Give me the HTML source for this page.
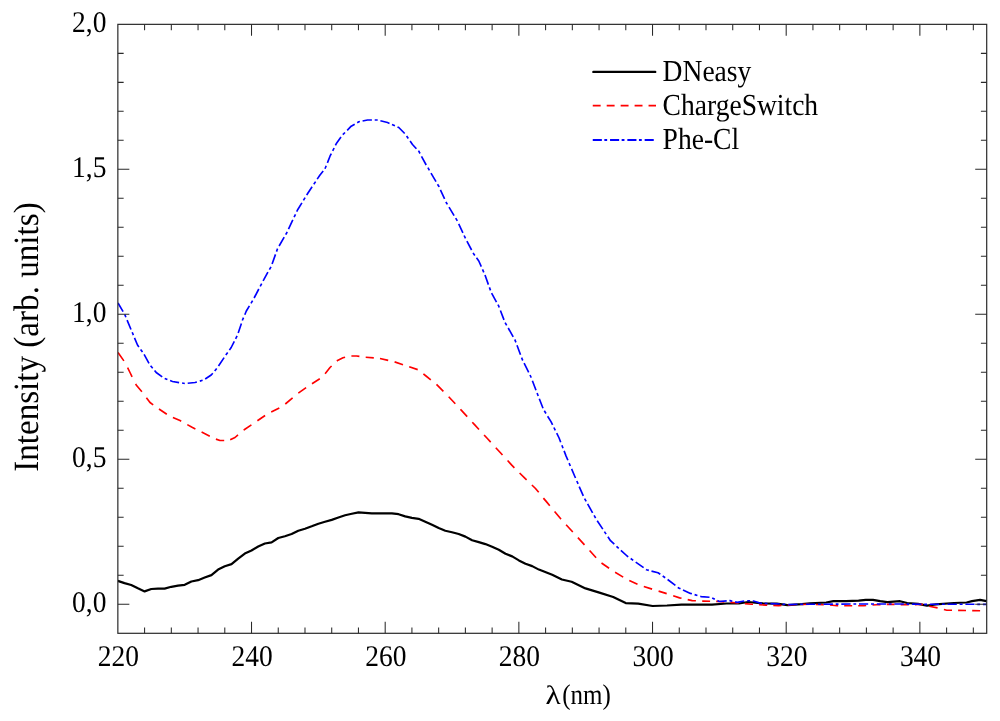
<!DOCTYPE html>
<html lang="en"><head><meta charset="utf-8"><title>Absorbance spectra</title>
<style>
html,body{margin:0;padding:0;background:#fff;}
svg{display:block;}
text{text-rendering:geometricPrecision;font-family:"Liberation Serif","DejaVu Serif",serif;fill:#000;}
.tk{stroke:#2a2a2a;stroke-width:1.05;fill:none;}
</style></head><body>
<svg width="1000" height="721" viewBox="0 0 1000 721">
<rect x="0" y="0" width="1000" height="721" fill="#fff"/>
<defs><clipPath id="c"><rect x="117.85" y="24.35" width="869.45" height="608.95"/></clipPath></defs>
<g clip-path="url(#c)" fill="none" stroke-linejoin="round">
<polyline points="117.8,580.9 124.5,583.1 131.2,585.0 137.9,588.3 144.6,591.4 151.3,589.0 158.0,588.6 164.6,588.6 171.3,586.8 178.0,585.7 184.7,584.8 191.4,581.5 198.1,580.2 204.7,577.6 211.4,575.1 218.1,569.6 224.8,566.3 231.5,564.1 238.2,558.6 244.8,553.6 251.5,550.5 258.2,546.5 264.9,543.5 271.6,542.4 278.3,538.0 284.9,536.2 291.6,534.0 298.3,530.7 305.0,528.7 311.7,526.3 318.4,523.7 325.0,521.8 331.7,519.9 338.4,517.5 345.1,515.3 351.8,513.8 358.5,512.4 365.1,512.9 371.8,513.3 378.5,513.3 385.2,513.3 391.9,513.3 398.6,514.2 405.2,516.4 411.9,517.9 418.6,518.8 425.3,521.7 432.0,524.8 438.7,528.1 445.3,530.7 452.0,532.2 458.7,534.0 465.4,536.6 472.1,540.2 478.8,542.1 485.4,544.1 492.1,546.8 498.8,549.8 505.5,553.8 512.2,556.4 518.9,560.4 525.5,563.7 532.2,566.1 538.9,569.6 552.2,574.8 561.9,579.5 571.6,581.8 585.5,588.4 599.4,592.6 613.2,597.0 625.7,603.1 638.2,603.6 652.6,606.0 667.0,605.5 681.4,604.6 712.0,604.6 726.4,603.5 739.0,603.5 748.0,602.0 762.4,603.3 776.8,603.7 787.6,605.1 802.0,604.2 810.0,603.4 826.2,602.5 833.4,601.1 846.0,601.2 858.6,600.7 865.8,599.8 873.0,599.8 880.2,601.2 887.4,602.1 900.0,601.2 907.2,603.0 918.0,603.8 927.0,605.7 936.0,604.3 954.0,603.0 966.6,602.5 972.0,601.1 980.1,599.8 986.5,601.1" stroke="#000" stroke-width="2.2"/>
<path d="M118.0 352.5L123.9 360.9M127.6 367.7L130.0 372.5L132.1 376.8M135.7 383.9L136.2 385.0L141.9 391.7M146.4 397.7L150.0 402.5L153.2 404.8M159.0 409.0L166.8 414.2M172.9 417.5L180.0 420.5L181.2 421.2M187.3 424.6L192.5 427.5L195.4 428.9M201.6 432.1L205.0 433.8L209.8 436.2M215.9 439.1L220.0 440.5L224.2 440.5M230.2 439.8L235.0 437.5L238.0 434.9M243.6 430.1L243.8 430.0L251.4 424.9M257.4 420.8L265.1 415.5M271.2 411.9L279.3 407.9M285.3 404.0L292.6 397.8M298.3 393.2L306.1 387.7M312.0 383.7L319.8 378.7M325.1 373.7L330.0 367.5L331.6 366.0M336.9 361.0L337.5 360.5L343.0 357.8L345.1 357.3M351.4 356.0L356.6 356.0L359.4 356.4M365.7 357.3L373.8 357.9M380.0 358.5L388.2 360.4M394.6 361.9L403.0 364.7M409.2 366.7L417.7 369.6M423.4 373.8L425.4 375.5L430.8 379.8M436.5 384.4L443.4 391.3M448.7 396.7L455.3 403.8M460.5 409.3L461.0 409.9L467.2 416.6M472.3 422.2L474.3 424.4L479.0 429.5M484.1 435.0L487.6 438.8L490.7 442.1M495.8 447.7L500.9 453.2L502.5 455.0M507.6 460.5L512.0 465.4L514.4 467.8M519.6 473.0L525.3 478.7L526.6 479.9M531.9 485.0L535.5 488.5L538.7 492.3M543.4 498.1L546.6 501.9L549.8 505.7M554.6 511.5L560.5 518.5L561.0 519.1M566.1 524.7L572.8 532.0M577.9 537.6L584.5 544.9M589.6 550.5L596.1 557.8M601.5 563.0L609.1 568.3M615.1 572.3L623.2 577.1M629.3 580.5L637.5 584.2M643.8 586.5L652.1 589.1M658.6 591.1L666.7 593.6M673.2 595.8L679.6 597.9L681.5 598.3M687.7 599.6L692.2 600.6L695.9 600.8M702.2 601.1L703.0 601.1L710.1 601.3M716.2 601.4L719.2 601.5L724.3 601.9M730.5 602.4L735.4 602.8L738.6 603.1M744.9 603.6L751.6 604.2L753.0 604.3M759.1 604.7L766.0 605.1L767.2 605.1M773.3 605.4L778.6 605.6L781.4 605.4M787.7 605.0L793.0 604.7L795.6 604.6M801.7 604.5L809.8 604.3M815.9 604.5L823.8 604.7M830.0 605.0L837.0 605.7L838.2 605.7M844.2 605.7L852.2 605.7M858.2 605.7L864.0 605.7L866.2 605.5M872.5 605.0L876.6 604.7L880.5 604.6M886.7 604.4L891.0 604.3L894.6 604.4M900.7 604.6L908.8 604.8M914.9 604.6L921.6 604.3L922.9 604.6M929.2 606.2L937.6 607.9M943.9 609.5L946.8 610.2L952.0 610.3M958.1 610.4L966.0 610.5M972.2 610.6L980.1 610.8M986.3 611.0L986.5 611.0" stroke="#ff0000" stroke-width="1.65"/>
<path d="M118.0 303.0L123.1 311.7M124.6 314.3L125.0 315.0L125.9 317.2M127.1 320.1L131.0 329.5M132.2 332.2L133.4 335.1M134.5 337.9L137.5 345.0L138.9 346.9M140.6 349.4L142.5 352.0M144.1 354.4L149.0 363.3M150.6 365.8L152.7 368.2M154.6 370.5L156.2 372.5L162.2 376.8M164.7 378.4L167.4 379.5M170.1 380.6L172.5 381.5L179.1 382.6M182.1 383.0L184.8 383.5M187.7 383.2L195.0 382.5L196.9 382.0M199.8 381.1L202.6 380.3M205.2 379.0L211.2 375.0L212.8 373.2M214.7 370.9L216.7 368.4M218.5 366.0L224.1 357.6M225.8 355.1L227.7 352.5M229.4 350.1L231.2 347.5L234.3 341.4M235.6 338.8L237.1 335.9M238.2 332.9L241.4 323.4M242.3 320.6L242.5 320.0L243.5 317.6M244.8 314.7L246.2 311.2L249.4 305.9M251.0 303.4L252.6 300.6M254.1 298.0L258.8 289.0M260.2 286.4L261.7 283.6M263.1 280.9L263.8 279.7L267.9 272.2M269.4 269.6L271.0 266.8M272.1 264.0L275.5 254.4M276.5 251.6L277.5 248.8L277.6 248.6M279.1 246.0L284.2 237.2M285.7 234.6L286.2 233.8L287.2 231.8M288.5 229.1L292.8 219.9M294.1 217.2L295.5 214.3M296.7 211.6L297.5 210.0L301.9 202.9M303.4 200.4L305.1 197.6M306.7 195.1L307.5 193.8L312.1 186.8M313.8 184.3L315.6 181.6M317.2 179.1L320.0 175.0L323.2 171.0M325.0 168.8L326.2 165.8M327.4 162.9L330.0 156.2L331.3 153.6M332.7 150.9L334.1 148.0M335.4 145.4L336.2 143.8L341.0 137.1M342.8 134.7L345.0 132.5M347.2 130.3L351.2 126.2L354.7 124.2M357.2 122.7L358.8 121.8L359.9 121.5M362.6 121.0L367.5 120.0L371.9 120.0M374.7 120.0L377.5 120.0L377.7 120.0M380.4 120.7L387.5 122.5L389.5 123.4M392.0 124.5L394.9 125.8M397.5 126.9L398.8 127.5L404.7 133.5M406.6 136.0L408.3 138.5M410.1 141.1L412.5 144.5L416.4 148.8M418.3 150.8L418.8 151.2L420.0 153.5M421.5 156.3L426.2 165.0M427.9 167.7L429.4 170.3M431.0 173.1L436.0 181.6M437.5 184.2L438.8 186.2L439.1 187.0M440.4 189.9L444.6 198.9M445.9 201.8L446.2 202.5L447.4 204.4M449.0 207.1L454.1 215.6M455.7 218.2L457.3 220.9M458.7 223.8L462.9 232.8M464.1 235.5L465.5 238.4M466.9 241.2L471.6 250.0M473.1 252.8L473.8 254.0L474.8 255.4M476.5 257.8L478.8 261.0L481.3 266.6M482.5 269.4L483.8 272.3M485.0 275.0L488.4 284.6M489.4 287.4L490.5 290.4M491.6 293.2L496.5 302.1M497.9 304.7L498.8 306.2L499.2 307.5M500.4 310.5L504.0 319.9M505.1 322.7L506.7 325.4M508.2 328.0L513.2 336.9M514.7 339.5L515.0 340.0L515.9 342.4M517.0 345.2L520.5 354.8M521.6 357.6L522.5 360.0L522.8 360.5M524.1 363.2L528.7 372.3M530.0 375.0L531.2 377.5L531.3 377.7M532.4 380.7L536.0 390.2M537.1 393.0L538.2 396.0M539.3 398.8L543.0 408.2M544.3 410.8L546.0 413.5M547.6 416.2L551.0 421.6L552.6 424.8M553.9 427.5L555.3 430.3M556.7 433.2L559.1 438.0L560.7 442.2M561.9 445.2L563.0 448.2M564.1 450.9L566.1 456.1L567.9 460.3M569.1 463.1L570.3 466.0M571.6 468.9L574.4 475.5L575.5 478.0M576.8 481.0L578.1 483.9M579.2 486.6L583.3 495.9M584.6 498.6L586.2 501.3M587.6 503.9L592.6 512.8M594.1 515.4L595.6 518.2M597.2 520.7L602.8 529.1M604.4 531.6L606.1 534.1M607.9 536.7L610.5 540.7L614.3 544.2M616.5 546.3L618.7 548.3M620.9 550.3L627.1 556.0L628.2 556.8M630.7 558.5L633.2 560.4M635.7 562.1L643.6 567.7M646.0 569.5L646.5 569.8L648.8 570.4M651.5 571.1L658.0 572.7L660.3 574.3M662.7 576.0L665.2 577.7M667.6 579.5L675.4 585.4M677.8 587.3L678.7 588.0L680.5 588.8M683.0 590.0L690.4 593.4L691.9 593.8M694.6 594.6L697.4 595.5M700.3 596.3L701.2 596.6L709.5 597.3M712.2 597.9L714.8 599.3M717.4 600.6L719.2 601.5L726.7 600.9M729.4 600.6L730.0 600.6L732.3 601.2M735.1 601.9L737.2 602.4L744.2 601.0M747.2 600.7L750.1 600.8M752.8 601.0L753.4 601.0L760.6 603.3L762.0 603.3M764.7 603.4L767.5 603.5M770.5 603.6L776.8 603.8L779.8 604.0M782.5 604.2L785.3 604.3M788.2 604.5L789.4 604.6L797.5 604.3M800.2 604.3L802.0 604.2L803.2 604.2M806.0 604.2L815.2 604.2M818.0 604.2L820.0 604.2L820.8 604.2M823.6 604.2L832.9 604.1M835.7 604.1L838.5 604.1M841.3 604.1L850.6 604.0M853.4 604.0L856.2 604.0M859.0 604.0L860.0 604.0L868.2 604.0M871.0 604.0L874.0 604.0M876.8 604.0L886.0 604.0M888.8 604.0L891.6 604.0M894.4 604.0L900.0 604.0L903.8 604.0M906.6 604.1L909.3 604.1M912.1 604.1L921.4 604.2M924.2 604.3L927.0 604.3M929.8 604.3L939.1 604.2M941.9 604.2L944.8 604.2M947.6 604.2L950.0 604.2L956.8 604.2M959.6 604.2L962.6 604.2M965.4 604.2L974.5 604.3M977.3 604.3L980.1 604.3M982.9 604.3L986.5 604.3" stroke="#0000ff" stroke-width="1.65"/>
</g>
<path class="tk" d="M144.58 633.30v-5.80M144.58 24.35v5.80M171.32 633.30v-5.80M171.32 24.35v5.80M198.05 633.30v-5.80M198.05 24.35v5.80M224.79 633.30v-5.80M224.79 24.35v5.80M251.52 633.30v-11.50M251.52 24.35v11.50M278.25 633.30v-5.80M278.25 24.35v5.80M304.99 633.30v-5.80M304.99 24.35v5.80M331.72 633.30v-5.80M331.72 24.35v5.80M358.45 633.30v-5.80M358.45 24.35v5.80M385.19 633.30v-11.50M385.19 24.35v11.50M411.92 633.30v-5.80M411.92 24.35v5.80M438.66 633.30v-5.80M438.66 24.35v5.80M465.39 633.30v-5.80M465.39 24.35v5.80M492.12 633.30v-5.80M492.12 24.35v5.80M518.86 633.30v-11.50M518.86 24.35v11.50M545.59 633.30v-5.80M545.59 24.35v5.80M572.33 633.30v-5.80M572.33 24.35v5.80M599.06 633.30v-5.80M599.06 24.35v5.80M625.79 633.30v-5.80M625.79 24.35v5.80M652.53 633.30v-11.50M652.53 24.35v11.50M679.26 633.30v-5.80M679.26 24.35v5.80M705.99 633.30v-5.80M705.99 24.35v5.80M732.73 633.30v-5.80M732.73 24.35v5.80M759.46 633.30v-5.80M759.46 24.35v5.80M786.20 633.30v-11.50M786.20 24.35v11.50M812.93 633.30v-5.80M812.93 24.35v5.80M839.66 633.30v-5.80M839.66 24.35v5.80M866.40 633.30v-5.80M866.40 24.35v5.80M893.13 633.30v-5.80M893.13 24.35v5.80M919.87 633.30v-11.50M919.87 24.35v11.50M946.60 633.30v-5.80M946.60 24.35v5.80M973.33 633.30v-5.80M973.33 24.35v5.80M117.85 604.30h11.50M986.70 604.30h-11.50M117.85 575.30h5.80M986.70 575.30h-5.80M117.85 546.31h5.80M986.70 546.31h-5.80M117.85 517.31h5.80M986.70 517.31h-5.80M117.85 488.31h5.80M986.70 488.31h-5.80M117.85 459.31h11.50M986.70 459.31h-11.50M117.85 430.32h5.80M986.70 430.32h-5.80M117.85 401.32h5.80M986.70 401.32h-5.80M117.85 372.32h5.80M986.70 372.32h-5.80M117.85 343.32h5.80M986.70 343.32h-5.80M117.85 314.33h11.50M986.70 314.33h-11.50M117.85 285.33h5.80M986.70 285.33h-5.80M117.85 256.33h5.80M986.70 256.33h-5.80M117.85 227.33h5.80M986.70 227.33h-5.80M117.85 198.34h5.80M986.70 198.34h-5.80M117.85 169.34h11.50M986.70 169.34h-11.50M117.85 140.34h5.80M986.70 140.34h-5.80M117.85 111.34h5.80M986.70 111.34h-5.80M117.85 82.35h5.80M986.70 82.35h-5.80M117.85 53.35h5.80M986.70 53.35h-5.80"/>
<rect x="117.85" y="24.35" width="868.85" height="608.95" fill="none" stroke="#2a2a2a" stroke-width="1.2"/>
<text transform="translate(106.4 612.20) scale(0.915 1)" font-size="30" text-anchor="end">0,0</text>
<text transform="translate(106.4 467.21) scale(0.915 1)" font-size="30" text-anchor="end">0,5</text>
<text transform="translate(106.4 322.23) scale(0.915 1)" font-size="30" text-anchor="end">1,0</text>
<text transform="translate(106.4 177.24) scale(0.915 1)" font-size="30" text-anchor="end">1,5</text>
<text transform="translate(106.4 32.25) scale(0.915 1)" font-size="30" text-anchor="end">2,0</text>
<text transform="translate(118.45 666.3) scale(0.915 1)" font-size="30" text-anchor="middle">220</text>
<text transform="translate(252.12 666.3) scale(0.915 1)" font-size="30" text-anchor="middle">240</text>
<text transform="translate(385.79 666.3) scale(0.915 1)" font-size="30" text-anchor="middle">260</text>
<text transform="translate(519.46 666.3) scale(0.915 1)" font-size="30" text-anchor="middle">280</text>
<text transform="translate(653.13 666.3) scale(0.915 1)" font-size="30" text-anchor="middle">300</text>
<text transform="translate(786.80 666.3) scale(0.915 1)" font-size="30" text-anchor="middle">320</text>
<text transform="translate(920.47 666.3) scale(0.915 1)" font-size="30" text-anchor="middle">340</text>
<text transform="translate(545.6 703.5) scale(1.1 0.93)" font-size="28.5">λ</text>
<text transform="translate(562.3 703.5) scale(0.877 1)" font-size="28.5">(nm)</text>
<text transform="translate(37.7 337.1) rotate(-90) scale(0.933 1)" font-size="35.5" text-anchor="middle">Intensity (arb. units)</text>
<g fill="none">
<line x1="593.4" y1="71.9" x2="655.2" y2="71.9" stroke="#000" stroke-width="2.4" stroke-linecap="round"/>
<line x1="592.75" y1="105.65" x2="656" y2="105.65" stroke="#ff0000" stroke-width="1.9" stroke-dasharray="7.9 6.05"/>
<line x1="592.75" y1="140" x2="654.2" y2="140" stroke="#0000ff" stroke-width="1.9" stroke-dasharray="9.1 2.5 2.8 2.9"/>
</g>
<text transform="translate(662.6 81.3) scale(0.903 1)" font-size="30.5">DNeasy</text>
<text transform="translate(662.6 115.0) scale(0.903 1)" font-size="30.5">ChargeSwitch</text>
<text transform="translate(662.6 148.8) scale(0.903 1)" font-size="30.5">Phe-Cl</text>
</svg></body></html>
